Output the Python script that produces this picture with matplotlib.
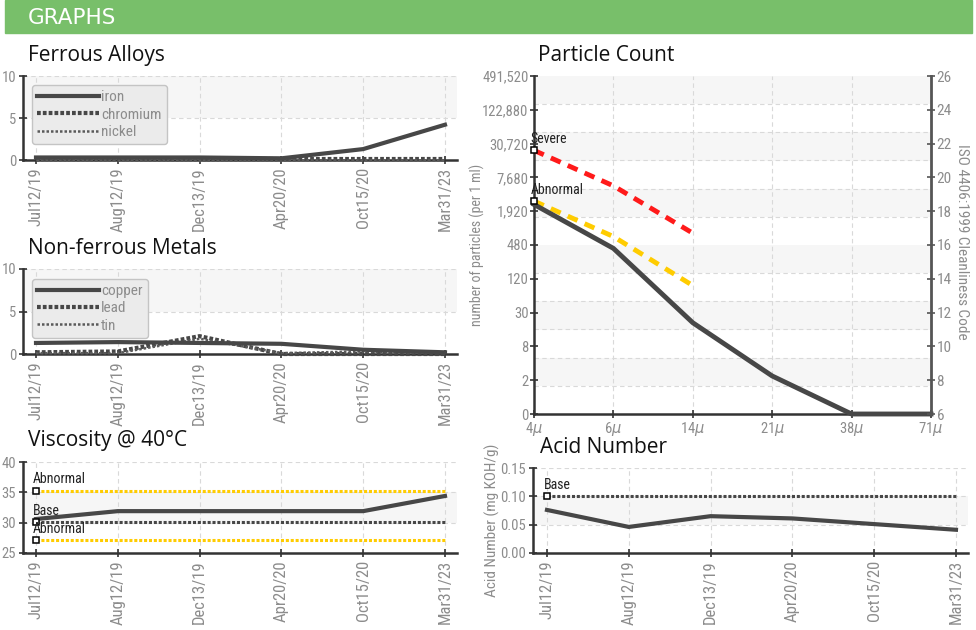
import numpy as np
import matplotlib
matplotlib.use('Agg')
import matplotlib.pyplot as plt
from matplotlib.patches import Rectangle

W, H = 976, 630

NARROW = ['Roboto Condensed', 'Liberation Sans Narrow', 'Roboto', 'DejaVu Sans']
TITLE = ['Open Sans', 'DejaVu Sans']
GREY = '#8c8c8c'
DARK = '#474747'
YELLOW = '#ffcc00'
SHADE = '#f6f6f6'

# ---- data ----
dates = ['Jul12/19', 'Aug12/19', 'Dec13/19', 'Apr20/20', 'Oct15/20', 'Mar31/23']

iron = [0.3, 0.3, 0.3, 0.2, 1.3, 4.2]
chromium = [0.1, 0.1, 0.1, 0.1, 0.1, 0.1]
nickel = [0.0, 0.0, 0.0, 0.0, 0.0, 0.0]

copper = [1.3, 1.4, 1.3, 1.2, 0.5, 0.2]
lead = [0.2, 0.3, 2.1, 0.0, 0.0, 0.0]
tin = [0.1, 0.1, 1.8, 0.1, 0.3, 0.1]

viscosity = [30.6, 31.9, 31.9, 31.9, 31.9, 34.4]
visc_limits = [('Abnormal', 35.3, YELLOW), ('Base', 30.1, DARK), ('Abnormal', 27.1, YELLOW)]

acid = [0.076, 0.046, 0.065, 0.061, 0.051, 0.041]
acid_base = 0.10

sizes = ['4', '6', '14', '21', '38', '71']
iso_code = [18.4, 15.8, 11.4, 8.25, 6.0, 6.0]
severe_code = [21.6, 19.5, 16.7]
abnormal_code = [18.6, 16.5, 13.6]
count_codes = [6, 8, 10, 12, 14, 16, 18, 20, 22, 24, 26]
count_labels = ['0', '2', '8', '30', '120', '480', '1,920', '7,680',
                '30,720', '122,880', '491,520']


def rect(l, t, r, b):
    # pixel box (from top-left) -> figure fraction
    return [l / W, 1 - b / H, (r - l) / W, (b - t) / H]


def style_axes(ax, yticks, ylabels, xlim):
    ax.set_xlim(*xlim)
    ax.set_ylim(yticks[0], yticks[-1])
    ax.set_yticks(yticks)
    ax.set_yticklabels(ylabels, family=NARROW)
    ax.set_xticks(range(len(dates)))
    ax.set_xticklabels(dates, rotation=90, family=NARROW, fontsize=12)
    for s in ['top', 'right']:
        ax.spines[s].set_visible(False)
    for s in ['left', 'bottom']:
        ax.spines[s].set_color('#333333')
        ax.spines[s].set_linewidth(1.8)
    ax.tick_params(direction='inout', length=6, width=1.2, color='#333333',
                   labelcolor=GREY, pad=2)
    ax.tick_params(axis='y', labelsize=10.5)
    ax.set_axisbelow(True)
    ax.grid(color='#d9d9d9', ls=(0, (4, 3)), lw=0.8)
    for i in range(len(yticks) - 1):
        if i % 2 == 1:
            ax.axhspan(yticks[i], yticks[i + 1], color=SHADE, zorder=0, lw=0)


def limit_marker(ax, x, y, label):
    ax.plot(x, y, marker='s', ms=5, mfc='white', mec='black', mew=1.1,
            zorder=6, clip_on=False)
    ax.annotate(label, (x, y), xytext=(-2.5, 3), textcoords='offset points',
                ha='left', va='bottom', fontsize=10, color='#222222',
                family=NARROW, zorder=7)


fig = plt.figure(figsize=(W / 100, H / 100), dpi=100)

# header bar
fig.patches.append(Rectangle((5 / W, 1 - 33 / H), 967 / W, 33 / H,
                             transform=fig.transFigure, color='#78bf6a', zorder=0))
fig.text(28 / W, 1 - 17.5 / H, 'GRAPHS', color='white', fontsize=15.5,
         family=['DejaVu Sans'], va='center', ha='left')

# titles
for txt, x, y in [('Ferrous Alloys', 28, 61), ('Non-ferrous Metals', 28, 254),
                  ('Viscosity @ 40°C', 28, 446), ('Particle Count', 538, 61),
                  ('Acid Number', 540, 453)]:
    fig.text(x / W, 1 - y / H, txt, fontsize=15, family=TITLE,
             color='#111111', va='baseline', ha='left')

x = np.arange(len(dates))
left_xlim = (-0.159, 5.147)

# ---- Ferrous Alloys ----
ax1 = fig.add_axes(rect(23, 76, 457, 160))
style_axes(ax1, [0, 5, 10], ['0', '5', '10'], left_xlim)
ax1.plot(x, iron, color=DARK, lw=3, label='iron', zorder=4, clip_on=False)
ax1.plot(x, chromium, color=DARK, lw=3, ls=(0, (0.9, 0.5)), label='chromium',
         zorder=3, clip_on=False)
ax1.plot(x, nickel, color='#5a5a5a', lw=1.8, ls=(0, (1, 0.8)), label='nickel',
         zorder=3, clip_on=False)

# ---- Non-ferrous Metals ----
ax2 = fig.add_axes(rect(23, 269, 457, 354))
style_axes(ax2, [0, 5, 10], ['0', '5', '10'], left_xlim)
ax2.plot(x, copper, color=DARK, lw=3, label='copper', zorder=4, clip_on=False)
ax2.plot(x, lead, color=DARK, lw=3, ls=(0, (0.9, 0.5)), label='lead',
         zorder=3, clip_on=False)
ax2.plot(x, tin, color='#5a5a5a', lw=1.8, ls=(0, (1, 0.8)), label='tin',
         zorder=3, clip_on=False)

for ax, anchor in [(ax1, (0.021, 0.893)), (ax2, (0.021, 0.885))]:
    leg = ax.legend(loc='upper left', bbox_to_anchor=anchor, borderaxespad=0,
                    frameon=True, fancybox=True, facecolor='#ebebeb',
                    edgecolor='#c4c4c4', framealpha=1, handlelength=4.0,
                    labelspacing=0.22, borderpad=0.35, handletextpad=0.15,
                    prop={'family': NARROW, 'size': 11})
    for t in leg.get_texts():
        t.set_color(GREY)

# ---- Viscosity ----
ax3 = fig.add_axes(rect(23, 462, 457, 553))
style_axes(ax3, [25, 30, 35, 40], ['25', '30', '35', '40'], left_xlim)
for label, val, col in visc_limits:
    ax3.plot([0, 5], [val, val], color=col, lw=2.2, ls=(0, (1, 0.6)), zorder=3)
    limit_marker(ax3, 0, val, label)
ax3.plot(x, viscosity, color=DARK, lw=3, zorder=4)

# ---- Acid Number ----
ax5 = fig.add_axes(rect(533, 468, 968, 553))
style_axes(ax5, [0, 0.05, 0.10, 0.15], ['0.00', '0.05', '0.10', '0.15'],
           (-0.171, 5.147))
ax5.plot([0, 5], [acid_base, acid_base], color=DARK, lw=2.2,
         ls=(0, (1, 0.6)), zorder=3)
limit_marker(ax5, 0, acid_base, 'Base')
ax5.plot(x, acid, color=DARK, lw=3, zorder=4)
fig.text(492 / W, 1 - 520 / H, 'Acid Number (mg KOH/g)', rotation=90,
         ha='center', va='center', color=GREY, fontsize=11, family=NARROW)

# ---- Particle Count ----
ax4 = fig.add_axes(rect(534, 76, 931, 414))
ax4.set_xlim(0, 5)
ax4.set_ylim(6, 26)
ax4.set_yticks(count_codes)
ax4.set_yticklabels(count_labels, family=NARROW)
ax4.set_xticks(range(len(sizes)))
ax4.set_xticklabels([s + r'$\mu$' for s in sizes], family=NARROW)
for s in ['top', 'right']:
    ax4.spines[s].set_visible(False)
for s in ['left', 'bottom']:
    ax4.spines[s].set_color('#333333')
    ax4.spines[s].set_linewidth(1.8)
ax4.tick_params(direction='inout', length=6, width=1.2, color='#333333',
                labelcolor=GREY, labelsize=10.5, pad=1)
ax4.set_axisbelow(True)
bands = np.linspace(6, 26, 13)
ax4.set_yticks(bands, minor=True)
ax4.tick_params(axis='y', which='minor', length=0)
ax4.grid(axis='x', color='#d9d9d9', ls=(0, (4, 3)), lw=0.8)
ax4.grid(axis='y', which='minor', color='#d9d9d9', ls=(0, (4, 3)), lw=0.8)
for i in range(12):
    if i % 2 == 1:
        ax4.axhspan(bands[i], bands[i + 1], color=SHADE, zorder=0, lw=0)

px = np.arange(len(sizes))
ax4.plot(px[:3], severe_code, color='#ff1a1a', lw=3.5, ls=(0, (2.2, 1.6)), zorder=3)
ax4.plot(px[:3], abnormal_code, color=YELLOW, lw=3.5, ls=(0, (2.2, 1.6)), zorder=3)
ax4.plot(px, iso_code, color=DARK, lw=3.5, zorder=4, clip_on=False)
limit_marker(ax4, 0, severe_code[0], 'Severe')
limit_marker(ax4, 0, abnormal_code[0], 'Abnormal')

ax4r = ax4.twinx()
ax4r.set_ylim(6, 26)
ax4r.set_yticks(count_codes)
ax4r.set_yticklabels([str(c) for c in count_codes], family=NARROW)
for s in ['top', 'left', 'bottom']:
    ax4r.spines[s].set_visible(False)
ax4r.spines['right'].set_color('#555555')
ax4r.spines['right'].set_linewidth(2)
ax4r.tick_params(direction='inout', length=6, width=1.2, color='#555555',
                 labelcolor=GREY, labelsize=11, pad=1)

fig.text(477 / W, 1 - 245 / H, 'number of particles (per 1 ml)', rotation=90,
         ha='center', va='center', color=GREY, fontsize=10, family=NARROW)
fig.text(962 / W, 1 - 242 / H, 'ISO 4406:1999 Cleanliness Code', rotation=270,
         ha='center', va='center', color=GREY, fontsize=11, family=NARROW)

fig.savefig('out.png', dpi=100)
